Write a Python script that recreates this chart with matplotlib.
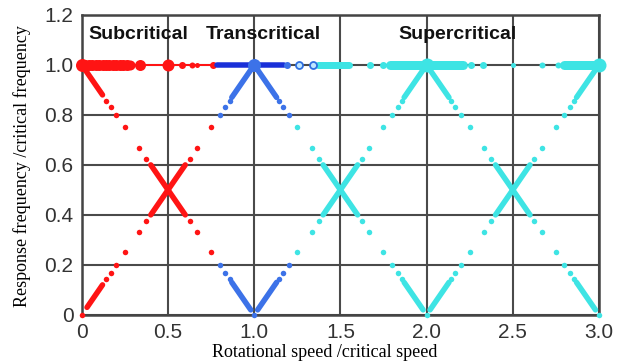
import matplotlib
matplotlib.use("Agg")
import matplotlib.pyplot as plt

# ---- data: rotational speed ratio (x) vs response frequency ratio (y) ----

# subcritical branch (red)
red_dot_x = [0.0, 0.143, 0.167, 0.2, 0.25, 0.333, 0.375, 0.625, 0.667, 0.75,
             0.143, 0.167, 0.2, 0.25, 0.333, 0.375, 0.625, 0.667, 0.75]
red_dot_y = [0.0, 0.143, 0.167, 0.2, 0.25, 0.333, 0.375, 0.625, 0.667, 0.75,
             0.857, 0.833, 0.8, 0.75, 0.667, 0.625, 0.375, 0.333, 0.25]
red_seg_x0 = [0.03, 0.40, 0.0, 0.40]
red_seg_y0 = [0.03, 0.40, 1.0, 0.60]
red_seg_x1 = [0.12, 0.60, 0.12, 0.60]
red_seg_y1 = [0.12, 0.60, 0.88, 0.40]
red_top_x = [0.0, 0.02, 0.04, 0.06, 0.08, 0.10, 0.12, 0.14, 0.16, 0.18,
             0.20, 0.22, 0.24, 0.26, 0.28, 0.34, 0.5, 0.58, 0.64, 0.67, 0.76]
red_top_d = [13, 11, 11, 11, 11, 11, 11, 11, 11, 11,
             11, 11, 11, 11, 10, 11, 12, 7, 6, 5, 7]

# transcritical branch (blue)
blue_dot_x = [0.8, 0.833, 0.857, 0.8, 0.833, 0.857, 1.0,
              1.143, 1.167, 1.2, 1.143, 1.167, 1.2]
blue_dot_y = [0.2, 0.167, 0.143, 0.8, 0.833, 0.857, 0.0,
              0.857, 0.833, 0.8, 0.143, 0.167, 0.2]
blue_seg_x0 = [0.87, 0.87, 1.0, 1.02]
blue_seg_y0 = [0.13, 0.87, 1.0, 0.02]
blue_seg_x1 = [0.98, 1.0, 1.13, 1.13]
blue_seg_y1 = [0.02, 1.0, 0.87, 0.13]
blue_top_seg_x0 = [0.785, 1.02]
blue_top_seg_x1 = [0.97, 1.17]
blue_top_x = [1.0, 1.19]
blue_top_d = [13, 7]
blue_ring_x = [1.26, 1.34]

# supercritical branch (cyan)
cyan_dot_x = [1.25, 1.333, 1.375, 1.625, 1.667, 1.75, 1.8, 1.833, 1.857,
              1.25, 1.333, 1.375, 1.625, 1.667, 1.75, 1.8, 1.833, 1.857,
              2.0,
              2.143, 2.167, 2.2, 2.25, 2.333, 2.375, 2.625, 2.667, 2.75, 2.8, 2.833, 2.857,
              2.143, 2.167, 2.2, 2.25, 2.333, 2.375, 2.625, 2.667, 2.75, 2.8, 2.833, 2.857,
              3.0]
cyan_dot_y = [0.75, 0.667, 0.625, 0.375, 0.333, 0.25, 0.2, 0.167, 0.143,
              0.25, 0.333, 0.375, 0.625, 0.667, 0.75, 0.8, 0.833, 0.857,
              0.0,
              0.857, 0.833, 0.8, 0.75, 0.667, 0.625, 0.375, 0.333, 0.25, 0.2, 0.167, 0.143,
              0.143, 0.167, 0.2, 0.25, 0.333, 0.375, 0.625, 0.667, 0.75, 0.8, 0.833, 0.857,
              0.0]
cyan_seg_x0 = [1.40, 1.40, 1.87, 1.87, 2.0, 2.02, 2.40, 2.40, 2.87, 2.87]
cyan_seg_y0 = [0.60, 0.40, 0.13, 0.87, 1.0, 0.02, 0.60, 0.40, 0.13, 0.87]
cyan_seg_x1 = [1.60, 1.60, 1.98, 2.0, 2.13, 2.13, 2.60, 2.60, 2.98, 3.0]
cyan_seg_y1 = [0.40, 0.60, 0.02, 1.0, 0.87, 0.13, 0.40, 0.60, 0.02, 1.0]
cyan_top_seg_x0 = [1.37, 1.79, 2.80]
cyan_top_seg_x1 = [1.55, 2.21, 3.00]
cyan_top_seg_w = [7, 9, 9]
cyan_top_x = [1.67, 1.75, 2.0, 2.26, 2.33, 2.5, 2.67, 2.76, 3.0]
cyan_top_d = [7, 7, 14, 7, 7, 5, 6, 6, 14]

x_ticks = [0, 0.5, 1.0, 1.5, 2.0, 2.5, 3.0]
x_tick_labels = ["0", "0.5", "1.0", "1.5", "2.0", "2.5", "3.0"]
y_ticks = [0, 0.2, 0.4, 0.6, 0.8, 1.0, 1.2]
y_tick_labels = ["0", "0.2", "0.4", "0.6", "0.8", "1.0", "1.2"]

regions = ["Subcritical", "Transcritical", "Supercritical"]
region_x = [0.33, 1.05, 2.18]

RED = "#ff1414"
BLUE = "#3c72e8"
DARK_BLUE = "#1a30d8"
CYAN = "#3ee4e4"
PX = 0.72  # pixel -> point at 100 dpi

fig = plt.figure(figsize=(6.2, 3.64), dpi=100)
ax = fig.add_axes([0.132, 0.135, 0.834, 0.824])


def draw_segments(x0, y0, x1, y1, color, lw=5.5):
    for a, b, c, d in zip(x0, y0, x1, y1):
        ax.plot([a, c], [b, d], color=color, lw=lw * PX,
                solid_capstyle="round", clip_on=False, zorder=3)


# thin line along the resonance level
ax.plot([0, 0.77], [1, 1], color=RED, lw=2 * PX, zorder=3)

# red
draw_segments(red_seg_x0, red_seg_y0, red_seg_x1, red_seg_y1, RED)
ax.plot(red_dot_x, red_dot_y, "o", color=RED, ms=5.5 * PX, mew=0,
        clip_on=False, zorder=3)
for x, d in zip(red_top_x, red_top_d):
    ax.plot(x, 1.0, "o", color=RED, ms=d * PX, mew=0, clip_on=False, zorder=4)

# blue
draw_segments(blue_seg_x0, blue_seg_y0, blue_seg_x1, blue_seg_y1, BLUE)
ax.plot(blue_dot_x, blue_dot_y, "o", color=BLUE, ms=5.5 * PX, mew=0,
        clip_on=False, zorder=3)
for a, b in zip(blue_top_seg_x0, blue_top_seg_x1):
    ax.plot([a, b], [1, 1], color=DARK_BLUE, lw=5.5 * PX,
            solid_capstyle="round", zorder=4)
for x, d in zip(blue_top_x, blue_top_d):
    ax.plot(x, 1.0, "o", color=BLUE, ms=d * PX, mew=0, zorder=5)
ax.plot(blue_ring_x, [1.0] * len(blue_ring_x), "o", mfc="#bfe6ff",
        mec="#2f6fe0", mew=1.3, ms=7 * PX, zorder=5)

# cyan
draw_segments(cyan_seg_x0, cyan_seg_y0, cyan_seg_x1, cyan_seg_y1, CYAN)
ax.plot(cyan_dot_x, cyan_dot_y, "o", color=CYAN, ms=5.5 * PX, mew=0,
        clip_on=False, zorder=3)
for a, b, w in zip(cyan_top_seg_x0, cyan_top_seg_x1, cyan_top_seg_w):
    ax.plot([a, b], [1, 1], color=CYAN, lw=w * PX,
            solid_capstyle="round", clip_on=False, zorder=4)
for x, d in zip(cyan_top_x, cyan_top_d):
    ax.plot(x, 1.0, "o", color=CYAN, ms=d * PX, mew=0, clip_on=False, zorder=5)

for name, x in zip(regions, region_x):
    ax.text(x, 1.12, name, ha="center", va="center", fontsize=14,
            fontweight="bold", family="Liberation Sans", color="#111111")

ax.set_xlim(0, 3.0)
ax.set_ylim(0, 1.2)
ax.set_xticks(x_ticks)
ax.set_xticklabels(x_tick_labels)
ax.set_yticks(y_ticks)
ax.set_yticklabels(y_tick_labels)
ax.tick_params(length=0, labelsize=15, labelcolor="#333333", pad=6)
for lab in ax.get_xticklabels() + ax.get_yticklabels():
    lab.set_family("Liberation Sans")
ax.grid(True, color="#4a4a4a", lw=1.5)
ax.set_axisbelow(True)
for s in ax.spines.values():
    s.set_color("#444444")
    s.set_linewidth(1.8)

fig.text(0.523, 0.032, "Rotational speed /critical speed", ha="center",
         va="center", fontsize=13, family="Liberation Serif")
fig.text(0.036, 0.545, "Response frequency /critical frequency", ha="center",
         va="center", rotation=90, fontsize=13, family="Liberation Serif")

fig.savefig("out.png", dpi=100)
